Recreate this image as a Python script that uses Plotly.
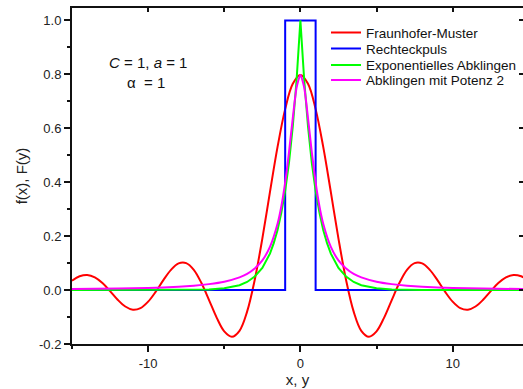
import plotly.graph_objects as go

# ---- data ----
x_red = [-15.0, -14.5, -14.0, -13.5, -13.0, -12.5, -12.0, -11.5, -11.0, -10.5, -10.0, -9.5, -9.0, -8.5, -8.0,
         -7.5, -7.0, -6.5, -6.0, -5.5, -5.0, -4.5, -4.0, -3.5, -3.0, -2.5, -2.0, -1.5, -1.0, -0.5, 0.0,
         0.5, 1.0, 1.5, 2.0, 2.5, 3.0, 3.5, 4.0, 4.5, 5.0, 5.5, 6.0, 6.5, 7.0, 7.5, 8.0,
         8.5, 9.0, 9.5, 10.0, 10.5, 11.0, 11.5, 12.0, 12.5, 13.0, 13.5, 14.0, 14.5, 15.0]
y_red = [0.035, 0.051, 0.056, 0.047, 0.026, -0.004, -0.036, -0.061, -0.073, -0.067, -0.043, -0.006, 0.037, 0.075, 0.099,
         0.100, 0.075, 0.026, -0.037, -0.102, -0.153, -0.173, -0.151, -0.080, 0.0375, 0.191, 0.363, 0.531, 0.671, 0.765, 0.798,
         0.765, 0.671, 0.531, 0.363, 0.191, 0.0375, -0.080, -0.151, -0.173, -0.153, -0.102, -0.037, 0.026, 0.075, 0.100, 0.099,
         0.075, 0.037, -0.006, -0.043, -0.067, -0.073, -0.061, -0.036, -0.004, 0.026, 0.047, 0.056, 0.051, 0.035]

x_blue = [-15, -1, -1, 1, 1, 15]
y_blue = [0, 0, 1, 1, 0, 0]

x_green = [-15, -10, -8, -6, -5, -4, -3.5, -3, -2.5, -2, -1.75, -1.5, -1.25, -1, -0.75, -0.5, -0.25, 0,
           0.25, 0.5, 0.75, 1, 1.25, 1.5, 1.75, 2, 2.5, 3, 3.5, 4, 5, 6, 8, 10, 15]
y_green = [0.0, 0.0, 0.0003, 0.0025, 0.007, 0.018, 0.030, 0.050, 0.082, 0.135, 0.174, 0.223, 0.287, 0.368, 0.472, 0.607, 0.779, 1.0,
           0.779, 0.607, 0.472, 0.368, 0.287, 0.223, 0.174, 0.135, 0.082, 0.050, 0.030, 0.018, 0.007, 0.0025, 0.0003, 0.0, 0.0]

x_mag = [-15, -12, -10, -8, -7, -6, -5, -4, -3.5, -3, -2.5, -2, -1.5, -1.25, -1, -0.75, -0.5, -0.25, 0,
         0.25, 0.5, 0.75, 1, 1.25, 1.5, 2, 2.5, 3, 3.5, 4, 5, 6, 7, 8, 10, 12, 15]
y_mag = [0.0035, 0.0055, 0.008, 0.012, 0.016, 0.022, 0.031, 0.047, 0.060, 0.080, 0.110, 0.160, 0.246, 0.311, 0.399, 0.511, 0.638, 0.751, 0.798,
         0.751, 0.638, 0.511, 0.399, 0.311, 0.246, 0.160, 0.110, 0.080, 0.060, 0.047, 0.031, 0.022, 0.016, 0.012, 0.008, 0.0055, 0.0035]

x_tickvals = [-10, 0, 10]
x_ticktext = ["-10", "0", "10"]
y_tickvals = [-0.2, 0.0, 0.2, 0.4, 0.6, 0.8, 1.0]
y_ticktext = ["-0.2", "0.0", "0.2", "0.4", "0.6", "0.8", "1.0"]

names = ["Fraunhofer-Muster", "Rechteckpuls", "Exponentielles Abklingen", "Abklingen mit Potenz 2"]
colors = ["#ff0000", "#0000ff", "#00ff00", "#ff00ff"]

FONT = "Arial, Liberation Sans, sans-serif"

W, H = 523, 389
ml, mr, mt, mb = 72, 0, 8, 45
xr = [-15, 14.62]
yr = [-0.2, 1.046]

def px2paper(px, py):
    return (px - ml) / (W - ml - mr), (H - mb - py) / (H - mt - mb)

legend_ids = ["legend", "legend2", "legend3", "legend4"]
row_centers = [33.3, 49.3, 65.7, 80.7]

fig = go.Figure()
fig.add_trace(go.Scatter(x=x_red, y=y_red, mode="lines", name=names[0], legend=legend_ids[0],
                         line=dict(color=colors[0], width=2, shape="spline", smoothing=1.0)))
fig.add_trace(go.Scatter(x=x_blue, y=y_blue, mode="lines", name=names[1], legend=legend_ids[1],
                         line=dict(color=colors[1], width=2)))
fig.add_trace(go.Scatter(x=x_green, y=y_green, mode="lines", name=names[2], legend=legend_ids[2],
                         line=dict(color=colors[2], width=2)))
fig.add_trace(go.Scatter(x=x_mag, y=y_mag, mode="lines", name=names[3], legend=legend_ids[3],
                         line=dict(color=colors[3], width=2, shape="spline", smoothing=0.6)))

legends = {}
for lid, rc in zip(legend_ids, row_centers):
    lx, ly = px2paper(326, rc - 16)
    legends[lid] = dict(x=lx, y=ly, xanchor="left", yanchor="top", bgcolor="rgba(0,0,0,0)",
                        font=dict(size=13.5, family=FONT, color="#111"), itemwidth=30)

axis_common = dict(showgrid=False, zeroline=False, showline=True, linecolor="#111", linewidth=2,
                   automargin=False, tickcolor="#111", tickwidth=1.5)

fig.update_layout(
    width=W, height=H,
    margin=dict(l=ml, r=mr, t=mt, b=mb, autoexpand=False),
    paper_bgcolor="white", plot_bgcolor="white",
    font=dict(family=FONT, size=13, color="#222"),
    showlegend=True,
    **legends,
    xaxis=dict(range=xr, ticks="outside", ticklen=6, tickmode="array",
               tickvals=x_tickvals, ticktext=x_ticktext,
               minor=dict(dtick=5, tick0=0, ticks="outside", ticklen=3, tickwidth=1.5, tickcolor="#111"),
               tickfont=dict(size=13, family=FONT, color="#222"),
               title=dict(text="x, y", font=dict(size=15, family=FONT, color="#222"), standoff=4),
               **axis_common),
    yaxis=dict(range=yr, ticks="outside", ticklen=6, tickmode="array",
               tickvals=y_tickvals, ticktext=y_ticktext,
               minor=dict(dtick=0.1, tick0=0, ticks="outside", ticklen=3, tickwidth=1.5, tickcolor="#111"),
               tickfont=dict(size=13, family=FONT, color="#222"),
               title=dict(text="f(x), F(y)", font=dict(size=15, family=FONT, color="#222"), standoff=8),
               **axis_common),
    xaxis2=dict(range=xr, overlaying="x", side="top", anchor="y", ticks="inside", ticklen=4,
                dtick=5, tick0=0, showticklabels=False, **axis_common),
    yaxis2=dict(range=yr, overlaying="y", side="right", anchor="x", ticks="inside", ticklen=4,
                dtick=0.2, tick0=0, showticklabels=False, **axis_common),
)

ax, ay = px2paper(148, 63)
fig.add_annotation(x=ax, y=ay, xref="paper", yref="paper", showarrow=False, xanchor="center", yanchor="middle",
                   text="<i>C</i> = 1, <i>a</i> = 1", font=dict(size=15, family=FONT, color="#111"))
ax, ay = px2paper(146, 82)
fig.add_annotation(x=ax, y=ay, xref="paper", yref="paper", showarrow=False, xanchor="center", yanchor="middle",
                   text="α  = 1", font=dict(size=15, family=FONT, color="#111"))

# invisible trace to activate the mirrored axes
fig.add_trace(go.Scatter(x=[None], y=[None], xaxis="x2", yaxis="y2", showlegend=False, hoverinfo="skip"))

fig.write_html("out.html", config={"displayModeBar": False},
               post_script="document.body.style.margin='0px';document.body.style.padding='0px';")
